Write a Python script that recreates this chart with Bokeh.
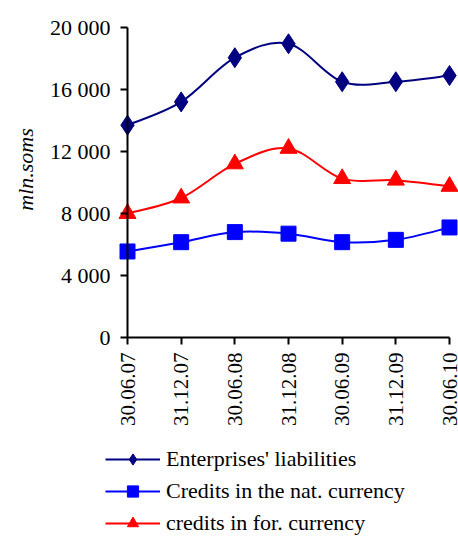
import math
from bokeh.plotting import figure
from bokeh.models import Range1d, FixedTicker, Legend, LegendItem, ColumnDataSource, Label
from bokeh.embed import file_html
from bokeh.resources import INLINE

# ---- data ----
dates = ["30.06.07", "31.12.07", "30.06.08", "31.12.08", "30.06.09", "31.12.09", "30.06.10"]
enterprises = [13700, 15200, 18050, 18950, 16500, 16500, 16900]
credits_nat = [5550, 6150, 6800, 6700, 6150, 6300, 7100]
credits_for = [8000, 9000, 11200, 12200, 10250, 10150, 9750]
y_ticks = [0, 4000, 8000, 12000, 16000, 20000]
y_tick_labels = ["0", "4 000", "8 000", "12 000", "16 000", "20 000"]
series_names = ["Enterprises' liabilities", "Credits in the nat. currency", "credits in for. currency"]
y_title = "mln.soms"

FONT = "Liberation Serif"
xs = list(range(len(dates)))

# ---- layout (pixels) ----
W, H = 458, 537
X0_PX, X1_PX = 127, 449      # pixel of first / last category
Y0_PX, YTOP_PX = 337, 27     # pixel of y=0 / y=20000
Y_MAX = 20000
ux = (X1_PX - X0_PX) / (len(dates) - 1)
uy = (Y0_PX - YTOP_PX) / Y_MAX
x_range = Range1d(-X0_PX / ux, (len(dates) - 1) + (W - X1_PX) / ux)
y_range = Range1d(-(H - Y0_PX) / uy, Y_MAX + YTOP_PX / uy)

p = figure(width=W, height=H, output_backend="svg", toolbar_location=None,
           x_range=x_range, y_range=y_range,
           min_border_left=0, min_border_right=0, min_border_top=0, min_border_bottom=0)
p.outline_line_color = None
p.grid.visible = False
p.background_fill_color = "white"
p.border_fill_color = "white"

# axes
p.yaxis.fixed_location = 0
p.yaxis.bounds = (0, Y_MAX)
p.yaxis.ticker = FixedTicker(ticks=y_ticks)
p.yaxis.major_label_overrides = {t: l for t, l in zip(y_ticks, y_tick_labels)}
p.yaxis.major_label_standoff = 10
p.yaxis.major_tick_out = 7
p.yaxis.major_tick_in = 0
p.yaxis.minor_tick_line_color = None
p.yaxis.major_label_text_font_size = "22px"

p.xaxis.fixed_location = 0
p.xaxis.bounds = (0, len(dates) - 1)
p.xaxis.ticker = FixedTicker(ticks=xs)
p.xaxis.major_label_overrides = {i: d for i, d in zip(xs, dates)}
p.xaxis.major_label_orientation = math.pi / 2
p.xaxis.major_label_standoff = 8
p.xaxis.major_tick_out = 7
p.xaxis.major_tick_in = 0
p.xaxis.minor_tick_line_color = None
p.xaxis.major_label_text_font_size = "21px"

for ax in (p.xaxis, p.yaxis):
    ax.axis_line_width = 2
    ax.axis_line_color = "black"
    ax.major_tick_line_width = 2
    ax.major_tick_line_color = "black"
    ax.major_label_text_font = FONT
    ax.major_label_text_color = "black"

# y-axis title (placed left of the tick labels)
p.add_layout(Label(x=(25 - X0_PX) / ux, y=(Y0_PX - 169) / uy, text=y_title, angle=math.pi / 2,
                   text_align="center", text_baseline="middle", text_font=FONT,
                   text_font_style="italic", text_font_size="22px", text_color="black"))


def smooth_segments(x, y):
    # cubic Bezier control points (Catmull-Rom style) for a smoothed line
    n = len(x)
    seg = dict(x0=[], y0=[], x1=[], y1=[], cx0=[], cy0=[], cx1=[], cy1=[])
    for i in range(n - 1):
        xm, ym = (x[i - 1], y[i - 1]) if i > 0 else (x[i], y[i])
        xp, yp = (x[i + 2], y[i + 2]) if i + 2 < n else (x[i + 1], y[i + 1])
        seg["x0"].append(x[i]); seg["y0"].append(y[i])
        seg["x1"].append(x[i + 1]); seg["y1"].append(y[i + 1])
        seg["cx0"].append(x[i] + (x[i + 1] - xm) / 6.0)
        seg["cy0"].append(y[i] + (y[i + 1] - ym) / 6.0)
        seg["cx1"].append(x[i + 1] - (xp - x[i]) / 6.0)
        seg["cy1"].append(y[i + 1] - (yp - y[i]) / 6.0)
    return ColumnDataSource(seg)


styles = [
    (enterprises, "#000080", "diamond", 20),
    (credits_nat, "#0000FF", "square", 15),
    (credits_for, "#FF0000", "triangle", 17),
]

items = []
for (vals, color, marker, size), name in zip(styles, series_names):
    src = smooth_segments(xs, vals)
    b = p.bezier(x0="x0", y0="y0", x1="x1", y1="y1", cx0="cx0", cy0="cy0", cx1="cx1", cy1="cy1",
                 source=src, line_color=color, line_width=2)
    s = p.scatter(x=xs, y=vals, marker=marker, size=size, fill_color=color, line_color=color)
    items.append(LegendItem(label=name, renderers=[b, s]))

legend = Legend(items=items, location=(105, 0), orientation="vertical",
                glyph_width=55, glyph_height=28, label_height=28, spacing=4,
                label_standoff=6, padding=0, margin=0,
                border_line_color=None, background_fill_alpha=0,
                label_text_font=FONT, label_text_font_size="22px", label_text_color="black")
p.add_layout(legend, "center")

open("out.html", "w").write(file_html(p, INLINE))
